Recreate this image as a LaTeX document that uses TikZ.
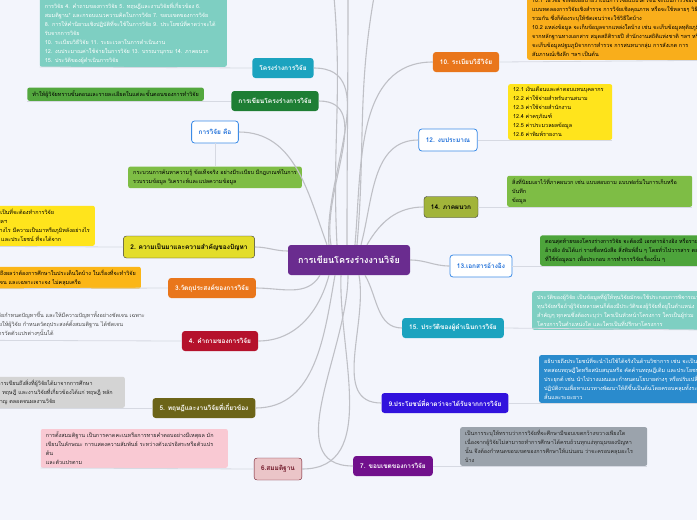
\documentclass[tikz,border=0pt]{standalone}
\usepackage{fontspec}
\setmainfont[Script=Thai]{Loma}
\usetikzlibrary{positioning}

\definecolor{bgcol}{HTML}{F3F5FC}
\definecolor{linkgray}{HTML}{BFC0C6}
\definecolor{notegray}{HTML}{D6D9E2}
\definecolor{cRoot}{HTML}{6A2C8F}
\definecolor{cTeal}{HTML}{1BA3BF}
\definecolor{cDkGreen}{HTML}{1E7E34}
\definecolor{cBlue}{HTML}{3C8CE7}
\definecolor{cBlueTxt}{HTML}{1E6FD9}
\definecolor{cYellowB}{HTML}{E3DD2A}
\definecolor{cOrange}{HTML}{E9761B}
\definecolor{cCrimson}{HTML}{B5122C}
\definecolor{cOlive}{HTML}{6C6418}
\definecolor{cPink}{HTML}{EBC5C8}
\definecolor{cMaroon}{HTML}{6E1425}
\definecolor{cPurple}{HTML}{71108C}
\definecolor{cIndigo}{HTML}{3112DD}
\definecolor{cLime}{HTML}{A2B43A}
\definecolor{nMint}{HTML}{7ECFC2}
\definecolor{nGreen}{HTML}{53A73E}
\definecolor{nLeaf}{HTML}{7EBD45}
\definecolor{nYellow}{HTML}{FFE41C}
\definecolor{nAmber}{HTML}{FBB617}
\definecolor{nGray}{HTML}{D4D4D4}
\definecolor{nPink}{HTML}{F9C9D3}
\definecolor{nOrange}{HTML}{F9AE1B}
\definecolor{nRefGreen}{HTML}{4DA43B}
\definecolor{nBlue}{HTML}{2A8BCD}
\definecolor{nSlate}{HTML}{9BA3AC}

\begin{document}
\begin{tikzpicture}[x=1pt,y=-1pt,
root/.style={fill=cRoot,text=white,rounded corners=3pt,font=\bfseries\fontsize{9}{11}\selectfont,minimum width=122pt,minimum height=30pt},
topic/.style={rounded corners=3pt,font=\bfseries\fontsize{6.5}{8}\selectfont,minimum height=20pt,inner xsep=7pt},
boxw/.style={fill=white,draw=cBlue,text=cBlueTxt,line width=0.8pt,minimum height=22pt},
note/.style={rounded corners=2pt,align=left,font=\fontsize{5.45}{9}\selectfont,inner xsep=5pt,inner ysep=3pt},
link/.style={draw=linkgray,line width=1.1pt},
notelink/.style={draw=notegray,line width=0.8pt}]

\path[use as bounding box,fill=bgcol] (0,0) rectangle (697,520);

% centre
\node[root] (root) at (349,260) {การเขียนโครงร่างงานวิจัย};

% left branches
\node[topic,fill=cTeal,text=white] (struct) at (283,68) {โครงร่างการวิจัย};
\node[topic,fill=cDkGreen,text=white] (write) at (275,101) {การเขียนโครงร่างการวิจัย};
\node[topic,boxw] (def) at (215,132) {การวิจัย คือ};
\node[topic,fill=cYellowB,draw=black!80,text=black,minimum height=22pt] (bg) at (189,247) {2. ความเป็นมาและความสำคัญของปัญหา};
\node[topic,fill=cOrange,text=white] (obj) at (212,288) {3.วัตถุประสงค์ของการวิจัย};
\node[topic,fill=cCrimson,text=white] (quest) at (220,341) {4. คำถามของการวิจัย};
\node[topic,fill=cOlive,text=white] (lit) at (204,408) {5. ทฤษฎีและงานวิจัยที่เกี่ยวข้อง};
\node[topic,fill=cPink,draw=cMaroon,text=cMaroon,minimum height=22pt] (hyp) at (278,469) {6.สมมติฐาน};

% right branches
\node[topic,fill=cPurple,text=white] (scope) at (393,466) {7. ขอบเขตของการวิจัย};
\node[topic,fill=cIndigo,text=white] (benefit) at (445,403) {9.ประโยชน์ที่คาดว่าจะได้รับจากการวิจัย};
\node[topic,fill=cOrange,text=white] (method) at (466,62) {10. ระเบียบวิธีวิจัย};
\node[topic,boxw] (budget) at (448,140) {12. งบประมาณ};
\node[topic,boxw] (refs) at (481,266) {13.เอกสารอ้างอิง};
\node[topic,fill=cLime,draw=black!80,text=black,minimum height=21pt] (app) at (451,207) {14. ภาคผนวก};
\node[topic,fill=cTeal,text=white] (cv) at (453,328) {15. ประวัติของผู้ดำเนินการวิจัย};

% notes
\node[note,fill=nMint,text=white,anchor=south east,text width=177pt] (n-struct) at (227,67) {\mbox{}\\
การวิจัย 4. คำถามของการวิจัย 5. ทฤษฎีและงานวิจัยที่เกี่ยวข้อง 6.\\
สมมติฐาน* และกรอบแนวความคิดในการวิจัย 7. ขอบเขตของการวิจัย\\
8. การให้คำนิยามเชิงปฏิบัติที่จะใช้ในการวิจัย 9. ประโยชน์ที่คาดว่าจะได้\\
รับจากการวิจัย\\
10. ระเบียบวิธีวิจัย 11. ระยะเวลาในการดำเนินงาน\\
12. งบประมาณค่าใช้จ่ายในการวิจัย 13. บรรณานุกรม 14. ภาคผนวก\\
15. ประวัติของผู้ดำเนินการวิจัย};
\node[note,fill=nGreen,text=black,anchor=south east] (n-write) at (204,101) {ทำให้ผู้วิจัยทราบขั้นตอนและรายละเอียดในแต่ละขั้นตอนของการทำวิจัย};
\node[note,fill=nLeaf,text=black,below=23pt of def] (n-def) {กระบวนการค้นหาความรู้ ข้อเท็จจริง อย่างมีระเบียบ มีกฎเกณฑ์ในการ\\
รวบรวมข้อมูล วิเคราะห์และแปลความข้อมูล};
\node[note,fill=nYellow,text=black,anchor=south east] (n-bg) at (95,246) {ผู้วิจัยต้องเขียนถึงความสำคัญของปัญหา ความจำเป็นที่จะต้องทำการวิจัย\\
ในเรื่องนั้นๆ เพื่อให้เห็นความสำคัญของการวิจัย ฯลฯ\\
เป็นการอธิบายว่าปัญหาที่จะทำการวิจัยนั้นเป็นอย่างไร มีความเป็นมาหรือภูมิหลังอย่างไร\\
อธิบายถึงความสำคัญของเรื่องที่จะวิจัยใน คุณค่า และประโยชน์ ที่จะได้จาก};
\node[note,fill=nAmber,text=black,anchor=south east] (n-obj) at (141,289) {เป็นการระบุให้ชัดเจนถึงผลว่าต้องการศึกษาในประเด็นใดบ้าง ในเรื่องที่จะทำวิจัย\\
ซึ่งจะต้องเขียนให้ชัดเจน และเฉพาะเจาะจง ไม่คลุมเครือ};
\node[note,text=black!70,anchor=south east] (n-quest) at (150,340) {คำถามของการวิจัยเป็นการนำเอาปัญหาที่ผู้วิจัยกำหนดปัญหาขึ้น และให้มีความปัญหาทั้งอย่างชัดเจน เฉพาะ\\
เจาะจง การตั้งคำถามการวิจัยที่ชัดเจน จะช่วยให้ผู้วิจัย กำหนดวัตถุประสงค์ตั้งสมมติฐาน ได้ชัดเจน\\
สามารถกำหนดตัวแปรที่สำคัญ ๆ ตลอดจน การวัดตัวแปรต่างๆนั้นได้};
\node[note,fill=nGray,text=black!85,anchor=south east,inner xsep=12pt] (n-lit) at (125,408) {การทบทวนวรรณกรรม\quad เป็นการเขียนถึงสิ่งที่ผู้วิจัยได้มาจากการศึกษา\\
เอกสารต่างๆ ที่เกี่ยวกับแนวคิด ทฤษฎี และงานวิจัยที่เกี่ยวข้องได้แก่ ทฤษฎี หลัก\\
การ แนวความคิดของผู้เชี่ยวชาญ ตลอดจนผลงานวิจัย};
\node[note,fill=nPink,text=black!85,anchor=south east,text width=177pt] (n-hyp) at (228,468) {การตั้งสมมติฐาน เป็นการคาดคะเนหรือการทายคำตอบอย่างมีเหตุผล มัก\\
เขียนในลักษณะ การแสดงความสัมพันธ์ ระหว่างตัวแปรอิสระหรือตัวแปร\\
ต้น\\
และตัวแปรตาม};
\node[note,fill=nSlate,text=black!85,anchor=south west,text width=177pt] (n-scope) at (460,466) {เป็นการระบุให้ทราบว่าการวิจัยที่จะศึกษามีขอบเขตกว้างขวางเพียงใด\\
เนื่องจากผู้วิจัยไม่สามารถทำการศึกษาได้ครบถ้วนทุกแง่ทุกมุมของปัญหา\\
นั้น จึงต้องกำหนดขอบเขตของการศึกษาให้แน่นอน ว่าจะครอบคลุมอะไร\\
บ้าง};
\node[note,fill=nOrange,text=black,anchor=south west] (n-method) at (527,60) {\mbox{}\\
10.1 วิธีวิจัย จะต้องอธิบายว่าเป็นการวิจัยแบบใด เช่น จะเป็นการวิจัยเชิงทดลอง การวิจัยกึ่ง\\
แบบทดลองการวิจัยเชิงสำรวจ การวิจัยเชิงคุณภาพ หรือจะใช้หลายๆ วิธี\\
รวมกัน ซึ่งก็ต้องระบุให้ชัดเจนว่าจะใช้วิธีใดบ้าง\\
10.2 แหล่งข้อมูล จะเก็บข้อมูลจากแหล่งใดบ้าง เช่น จะเก็บข้อมูลทุติยภูมิ\\
จากหลักฐานทางเอกสาร สมุดสถิติรายปี สำนักงานสถิติแห่งชาติ ฯลฯ หรือ\\
จะเก็บข้อมูลปฐมภูมิจากการสำรวจ การสนทนากลุ่ม การสังเกต การ\\
สัมภาษณ์เชิงลึก ฯลฯ เป็นต้น};
\node[note,fill=nYellow,text=black,anchor=south west,text width=94pt] (n-budget) at (508,140) {12.1 เงินเดือนและค่าตอบแทนบุคลากร\\
12.2 ค่าใช้จ่ายสำหรับงานสนาม\\
12.3 ค่าใช้จ่ายสำนักงาน\\
12.4 ค่าครุภัณฑ์\\
12.5 ค่าประมวลผลข้อมูล\\
12.6 ค่าพิมพ์รายงาน};
\node[note,fill=nLeaf,text=black,anchor=south west,text width=175pt] (n-app) at (507,207) {สิ่งที่นิยมเอาไว้ที่ภาคผนวก เช่น แบบสอบถาม แบบฟอร์มในการเก็บหรือ\\
บันทึก\\
ข้อมูล};
\node[note,fill=nRefGreen,text=black,anchor=south west] (n-refs) at (540,266) {ตอนสุดท้ายของโครงร่างการวิจัย จะต้องมี เอกสารอ้างอิง หรือรายการ\\
อ้างอิง อันได้แก่ รายชื่อหนังสือ สิ่งพิมพ์อื่น ๆ โดยทั่วไปวารสาร ตลอดจน\\
ที่ใช้ข้อมูลมา เพื่อประกอบ การทำการวิจัยเรื่องนั้น ๆ};
\node[note,fill=nMint,text=white,anchor=south west] (n-cv) at (532,330) {ประวัติของผู้วิจัย เป็นข้อมูลที่ผู้ให้ทุนวิจัยมักจะใช้ประกอบการพิจารณา\\
ทุนวิจัยหรือถ้าผู้วิจัยหลายคนก็ต้องมีประวัติของผู้วิจัยที่อยู่ในตำแหน่ง\\
สำคัญๆ ทุกคนซึ่งต้องระบุว่า ใครเป็นหัวหน้าโครงการ ใครเป็นผู้ร่วม\\
โครงการในตำแหน่งใด และใครเป็นที่ปรึกษาโครงการ};
\node[note,fill=nBlue,text=white,anchor=south west] (n-benefit) at (539,403) {อธิบายถึงประโยชน์ที่จะนำไปใช้ได้จริงในด้านวิชาการ เช่น จะเป็นการ\\
ทดสอบทฤษฎีใดหรือสนับสนุนหรือ คัดค้านทฤษฎีเดิม และประโยชน์ในการ\\
ประยุกต์ เช่น นำไปวางแผนและกำหนดนโยบายต่างๆ หรือปรับเปลี่ยนการ\\
ปฏิบัติงานเพื่อหาแนวทางพัฒนาให้ดีขึ้นเป็นต้นโดยครอบคลุมทั้งระยะ\\
สั้นและระยะยาว};

% branches beyond the top edge
\coordinate (up1) at (334,-3);
\coordinate (up2) at (348,-3);
\coordinate (up3) at (374,-3);

\draw[link] ([xshift=-12pt]root.north) to[out=93,in=-85] (up1);
\draw[link] ([xshift=-2pt]root.north) to[out=90,in=-90] (up2);
\draw[link] ([xshift=8pt]root.north) to[out=85,in=-100] (up3);

\draw[link] ([xshift=-20pt]root.north) to[out=95,in=0] (struct.east);
\draw[link] ([xshift=-18pt]root.north) to[out=100,in=0] (write.east);
\draw[link] ([xshift=-22pt]root.north) to[out=110,in=0] (def.east);
\draw[link] ([yshift=9pt]root.west) to[out=180,in=0] (bg.east);
\draw[link] ([xshift=-29pt]root.south) to[out=-120,in=0] (obj.east);
\draw[link] ([xshift=-20pt]root.south) to[out=-105,in=0] (quest.east);
\draw[link] ([xshift=-14pt]root.south) to[out=-100,in=0] (lit.east);
\draw[link] ([xshift=-8pt]root.south) to[out=-92,in=0] (hyp.east);
\draw[link] ([xshift=-1pt]root.south) to[out=-90,in=180] (scope.west);
\draw[link] ([xshift=10pt]root.south) to[out=-80,in=180] (benefit.west);
\draw[link] ([xshift=16pt]root.south) to[out=-60,in=180] (cv.west);
\draw[link] (root.east) to[out=0,in=180] (refs.west);
\draw[link] ([xshift=18pt]root.north) to[out=60,in=180] (app.west);
\draw[link] ([xshift=12pt]root.north) to[out=75,in=180] (budget.west);
\draw[link] ([xshift=6pt]root.north) to[out=85,in=180] (method.west);

% notes to their branches
\draw[notelink] (n-struct.south west) -- (struct.west);
\draw[notelink] (n-write.south west) -- (write.west);
\draw[notelink] (def.south) -- (n-def.north);
\draw[notelink] (n-bg.south west) -- (bg.west);
\draw[notelink] (n-obj.south west) -- (obj.west);
\draw[notelink] (n-quest.south west) -- (quest.west);
\draw[notelink] (n-lit.south west) -- (lit.west);
\draw[notelink] (n-hyp.south west) -- (hyp.west);
\draw[notelink] (scope.east) -- (n-scope.south east);
\draw[notelink] (method.east) -- (n-method.south east);
\draw[notelink] (budget.east) -- (n-budget.south east);
\draw[notelink] (app.east) -- (n-app.south east);
\draw[notelink] (refs.east) -- (n-refs.south east);
\draw[notelink] (cv.east) -- (n-cv.south east);
\draw[notelink] (benefit.east) -- (n-benefit.south east);

\end{tikzpicture}
\end{document}
